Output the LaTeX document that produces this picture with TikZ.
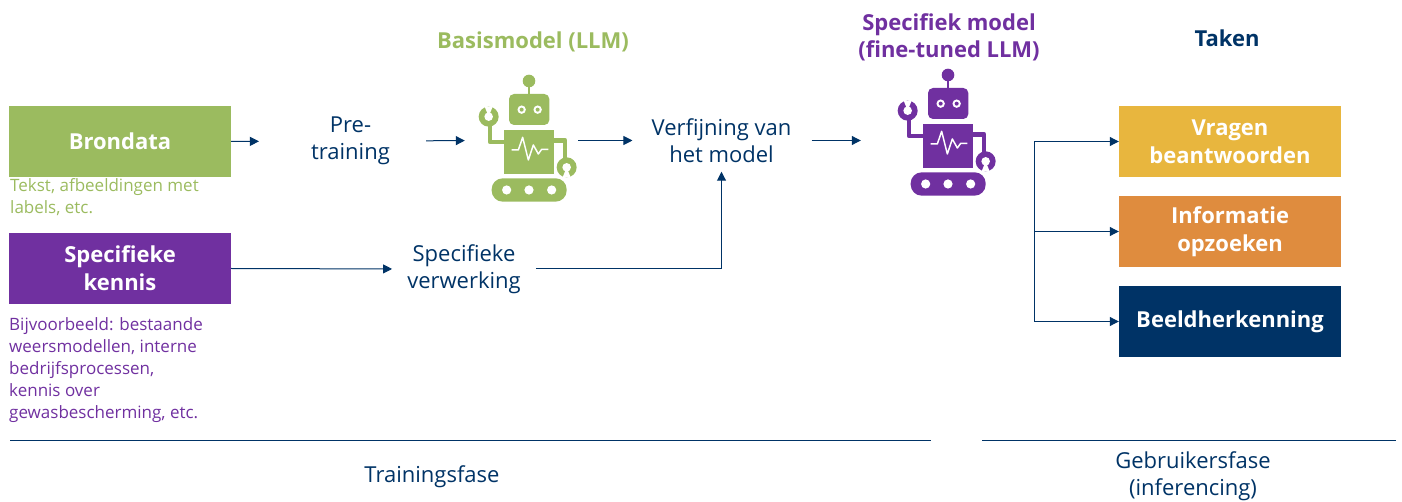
\documentclass[tikz,border=0pt]{standalone}
\usepackage{fontspec}
\setmainfont{Open Sans}
\usetikzlibrary{arrows.meta,calc}
\definecolor{navy}{HTML}{003366}
\definecolor{lmgreen}{HTML}{9BBB5F}
\definecolor{lmpurple}{HTML}{7030A0}
\definecolor{lmyellow}{HTML}{E8B63E}
\definecolor{lmorange}{HTML}{DF8C3E}
\tikzset{
 arr/.style={draw=navy,line width=1pt,-{Triangle[length=9pt,width=9pt]}},
 rule/.style={draw=navy,line width=1pt},
 lab/.style={text=navy,font=\fontsize{22}{27}\selectfont,align=center,inner sep=0pt},
 boxn/.style={minimum width=222pt,minimum height=71pt,inner sep=0pt,align=center,text=white,font=\fontsize{22}{28}\bfseries\selectfont},
 head/.style={font=\fontsize{22}{27}\bfseries\selectfont,align=center,inner sep=0pt},
 note/.style={font=\fontsize{17}{22}\selectfont,align=left,inner sep=0pt,anchor=north west},
 holder/.style={minimum width=100pt,minimum height=127pt,inner sep=0pt},
}
\newcommand{\robot}[3]{%
 \begin{scope}[shift={(#1,#2)},x=0.3333pt,y=-0.3333pt]
  \fill[#3] (177,63) circle [radius=6.3pt];
  \draw[#3,line width=2.6pt] (177,63) -- (177,105);
  \fill[#3,rounded corners=5pt] (117,102) rectangle (238,195);
  \foreach \ex in {155,203} {
   \fill[white] (\ex,149) circle [radius=4.2pt];
   \fill[#3] (\ex,149) circle [radius=2pt];
  }
  \fill[#3] (102,210) rectangle (252,342);
  \draw[#3,line width=4.8pt,line join=round] (105,246) -- (60,246) -- (60,185);
  \draw[#3,line width=4.8pt,line join=round] (250,241) -- (285,241) -- (285,300);
  \fill[#3] (56,170) circle [radius=10pt];
  \fill[white] (56,170) circle [radius=4.3pt];
  \fill[white] (56,170) -- (44,140) -- (68,140) -- cycle;
  \fill[#3] (290,322) circle [radius=10pt];
  \fill[white] (290,322) circle [radius=4.3pt];
  \fill[white] (290,322) -- (278,352) -- (302,352) -- cycle;
  \draw[white,line width=1.5pt,line join=round] (125,270) -- (145,270) -- (158,232) -- (175,300) -- (190,255) -- (205,282) -- (215,268) -- (235,268);
  \fill[#3,rounded corners=11pt] (65,355) rectangle (290,425);
  \foreach \wx in {110,177,245} \fill[white] (\wx,390) circle [radius=4.6pt];
 \end{scope}}
\begin{document}
\begin{tikzpicture}[x=1pt,y=-1pt]
\useasboundingbox (0,0) rectangle (1402,502);
% source boxes
\node[boxn,fill=lmgreen] (brondata) at (120,141.5) {Brondata};
\node[boxn,fill=lmpurple] (kennis) at (120,268.5) {Specifieke\\kennis};
\node[note,text=lmgreen] (notea) at (10,178) {Tekst, afbeeldingen met\\labels, etc.};
\node[note,text=lmpurple] (noteb) at (9,317) {Bijvoorbeeld: bestaande\\weersmodellen, interne\\bedrijfsprocessen,\\kennis over\\gewasbescherming, etc.};
% steps
\node[lab] (pre) at (350.5,141) {Pre-\\training};
\node[lab] (verf) at (721.5,140.5) {Verfijning van\\het model};
\node[lab] (verw) at (464,269) {Specifieke\\verwerking};
% robots
\node[holder] (robotA) at (528,140.5) {};
\node[holder] (robotB) at (947,133) {};
\robot{470}{60}{lmgreen}
\robot{889}{54}{lmpurple}
% headings
\node[head,text=lmgreen] (basis) at (533,42) {Basismodel (LLM)};
\node[head,text=lmpurple] (spec) at (949,37) {Specifiek model\\(fine-tuned LLM)};
\node[head,text=navy] (taken) at (1227,38) {Taken};
% task boxes
\node[boxn,fill=lmyellow] (vragen) at (1230,141.5) {Vragen\\beantwoorden};
\node[boxn,fill=lmorange] (info) at (1230,231.5) {Informatie\\opzoeken};
\node[boxn,fill=navy] (beeld) at (1230,321.5) {Beeldherkenning};
% connectors
\draw[arr,shorten >=52pt] (brondata.east) -- (pre.west);
\draw[arr,shorten <=36pt,shorten >=13pt] (pre.east) -- (robotA.west);
\draw[arr,shorten >=19pt] (robotA.east) -- (verf.west);
\draw[arr,shorten <=20pt,shorten >=36pt] (verf.east) -- (robotB.west |- verf.east);
\draw[arr,shorten >=15pt] (kennis.east) -- (verw.west);
\draw[arr,shorten <=15pt,shorten >=9pt] (verw.east) -| (verf.south);
\coordinate (trunk) at (1034,141.5);
\draw[arr] (trunk) -- (vragen.west);
\draw[arr] (trunk) |- (info.west);
\draw[arr] (trunk) |- (beeld.west);
% phase rules
\coordinate (ruleAa) at (10,440);
\coordinate (ruleAb) at (931,440);
\coordinate (ruleBa) at (982,440);
\coordinate (ruleBb) at (1396,440);
\draw[rule] (ruleAa) -- (ruleAb);
\draw[rule] (ruleBa) -- (ruleBb);
\node[lab] (fasea) at (432,477) {Trainingsfase};
\node[lab] (faseb) at (1193,476.5) {Gebruikersfase\\(inferencing)};
\end{tikzpicture}
\end{document}
